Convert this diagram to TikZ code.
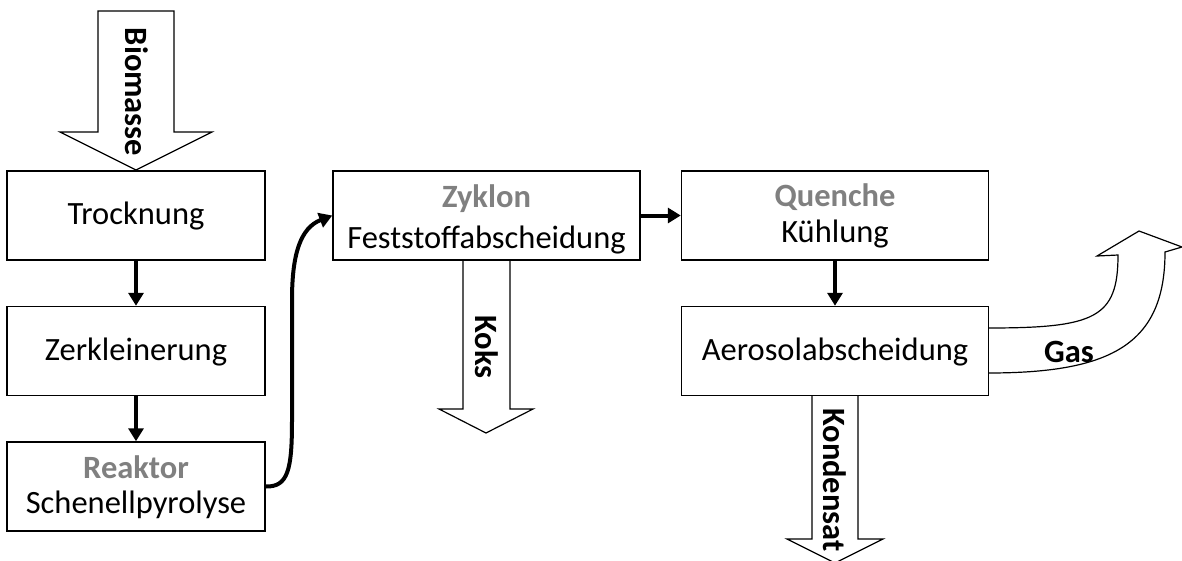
\documentclass[tikz,border=0pt]{standalone}
\usepackage{fontspec}
\setmainfont{Carlito}
\usetikzlibrary{arrows.meta}
\definecolor{labgray}{RGB}{128,128,128}
\newcommand{\bigfnt}{\fontsize{32.5}{39}\selectfont}
\begin{document}
\begin{tikzpicture}[x=1pt,y=-1pt,
  procbox/.style={draw, line width=1.5pt, rectangle, inner sep=0pt, minimum width=#1, minimum height=89pt},
  txt/.style={font=\bigfnt, anchor=base, inner sep=0pt},
  ttl/.style={font=\bigfnt\bfseries, text=labgray, anchor=base, inner sep=0pt},
  vlab/.style={font=\bigfnt\bfseries, anchor=base, inner sep=0pt, rotate=-90},
  hlab/.style={font=\bigfnt\bfseries, anchor=base, inner sep=0pt},
  flow/.style={line width=4pt, -{Triangle[length=13pt,width=15pt]}},
  blockarrow/.style={draw, line width=1.2pt, line join=miter}
]
\useasboundingbox (0,0) rectangle (1182,560);

% block arrows
\draw[blockarrow] (98,11) -- (174,11) -- (174,132) -- (212,132) -- (136,170) -- (60,132) -- (98,132) -- cycle;
\draw[blockarrow] (463,260) -- (463,409) -- (439,409) -- (486,433) -- (533,409) -- (510,409) -- (510,260);
\draw[blockarrow] (812,396) -- (812,539) -- (787,539) -- (835,563) -- (883,539) -- (858,539) -- (858,396);
\draw[blockarrow] (988,328) .. controls (1095,328) and (1118,318) .. (1118,255)
  -- (1097,256) -- (1139,231) -- (1182,247) -- (1165,252)
  .. controls (1165,345) and (1110,373) .. (988,373);

% boxes
\node[procbox=258pt] (tro) at (136,215.5) {};
\node[procbox=258pt] (zer) at (136,351) {};
\node[procbox=258pt] (rea) at (136,486.5) {};
\node[procbox=307pt] (zyk) at (486.5,215.5) {};
\node[procbox=307pt] (que) at (835,215.5) {};
\node[procbox=307pt] (aer) at (835,351) {};

% texts
\node[txt] (trot) at (136,224) {Trocknung};
\node[txt] (zert) at (136,360) {Zerkleinerung};
\node[ttl] (reat1) at (136,478) {Reaktor};
\node[txt] (reat2) at (136,513) {Schenellpyrolyse};
\node[ttl] (zykt1) at (486.5,207) {Zyklon};
\node[txt] (zykt2) at (486.5,248) {Feststoffabscheidung};
\node[ttl] (quet1) at (835,206) {Quenche};
\node[txt] (quet2) at (835,242) {Kühlung};
\node[txt] (aert) at (835,360) {Aerosolabscheidung};

\node[vlab] (bio) at (125,92) {Biomasse};
\node[vlab] (kok) at (475,347) {Koks};
\node[vlab] (kon) at (823,480) {Kondensat};
\node[hlab] (gas) at (1069,362) {Gas};

% connectors
\draw[flow] (tro.south) -- (zer.north);
\draw[flow] (zer.south) -- (rea.north);
\draw[flow] (zyk.east) -- (que.west);
\draw[flow] (que.south) -- (aer.north);
\draw[flow] (rea.east) .. controls (288,487) and (292,470) .. (292,420) -- (292,300)
  .. controls (292,255) and (300,228) .. (zyk.west);
\end{tikzpicture}
\end{document}
